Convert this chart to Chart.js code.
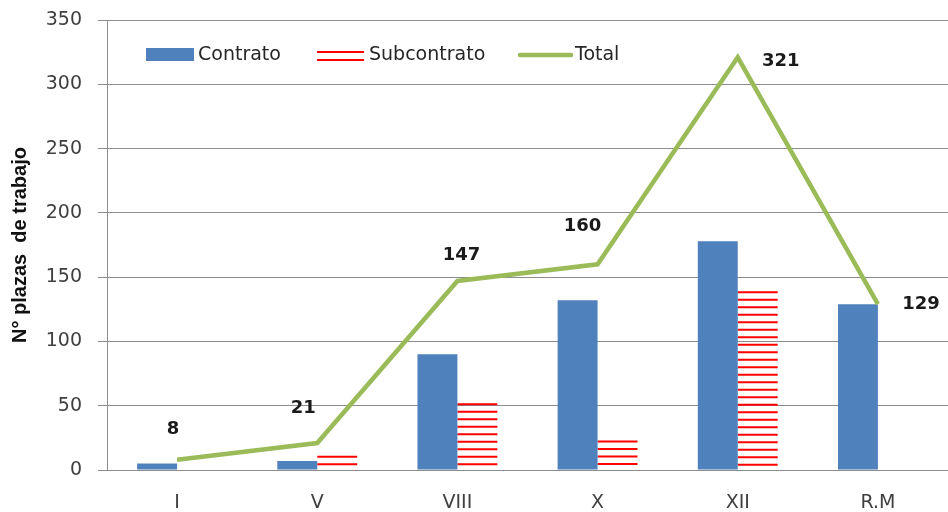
<!DOCTYPE html>
<html>
<head>
<meta charset="utf-8">
<script src="https://cdn.jsdelivr.net/npm/chart.js@4.4.1/dist/chart.umd.min.js"></script>
<style>
html,body{margin:0;padding:0;background:#fff;}
#wrap{width:948px;height:512px;position:relative;}
</style>
</head>
<body>
<div id="wrap"><canvas id="c" width="948" height="512"></canvas></div>
<script>
const categories = ['I', 'V', 'VIII', 'X', 'XII', 'R.M'];
const contrato = [5, 7, 90, 132, 178, 129];
const subcontrato = [0, 11, 52, 23, 139, 0];
const total = [8, 21, 147, 160, 321, 129];
const yTicks = [0, 50, 100, 150, 200, 250, 300, 350];

const BLUE = '#4F81BD', RED = '#FF0000', GREEN = '#9BBB59';
const GRID = '#8C8C8C';

// label offsets relative to the total-line point (style only)
const labelOffsets = [[-4,-30],[-14,-35],[4,-26],[-15,-38],[43,4],[43,0]];

const hatchPlugin = {
  id: 'hatch',
  afterDatasetDraw(chart, args) {
    if (args.index !== 1) return;
    const ctx = chart.ctx;
    ctx.save();
    ctx.strokeStyle = RED;
    ctx.lineWidth = 2;
    args.meta.data.forEach(bar => {
      const p = bar.getProps(['x','y','base','width'], true);
      if (p.base - p.y < 1) return;
      const l = p.x - p.width/2, r = p.x + p.width/2;
      for (let yy = p.y + 1; yy < p.base - 2; yy += 7.5) {
        ctx.beginPath();
        ctx.moveTo(l, yy);
        ctx.lineTo(r, yy);
        ctx.stroke();
      }
    });
    ctx.restore();
  }
};

const decorPlugin = {
  id: 'decor',
  afterDraw(chart) {
    const ctx = chart.ctx;
    const area = chart.chartArea;
    ctx.save();
    const meta = chart.getDatasetMeta(2);
    ctx.font = 'bold 18px "DejaVu Sans"';
    ctx.fillStyle = '#1a1a1a';
    ctx.textAlign = 'center';
    ctx.textBaseline = 'middle';
    meta.data.forEach((pt, i) => {
      const o = labelOffsets[i];
      ctx.fillText(String(total[i]), pt.x + o[0], pt.y + o[1]);
    });
    ctx.save();
    ctx.translate(20, (area.top + area.bottom) / 2);
    ctx.rotate(-Math.PI / 2);
    ctx.font = 'bold 20px "Liberation Sans"';
    ctx.fillStyle = '#111';
    ctx.fillText('N° plazas  de trabajo', 0, 0);
    ctx.restore();
    const ly = 55;
    ctx.font = '19px "DejaVu Sans"';
    ctx.textAlign = 'left';
    const ds = chart.data.datasets;
    ctx.fillStyle = BLUE;
    ctx.fillRect(146, 48, 48, 13);
    ctx.fillStyle = '#262626';
    ctx.fillText(ds[0].label, 198, ly);
    ctx.strokeStyle = RED;
    ctx.lineWidth = 2;
    [52, 60].forEach(yy => {
      ctx.beginPath(); ctx.moveTo(317, yy); ctx.lineTo(364, yy); ctx.stroke();
    });
    ctx.fillText(ds[1].label, 369, ly);
    ctx.strokeStyle = GREEN;
    ctx.lineWidth = 4.5;
    ctx.lineCap = 'round';
    ctx.beginPath(); ctx.moveTo(520, 55); ctx.lineTo(571, 55); ctx.stroke();
    ctx.fillText(ds[2].label, 575, ly);
    ctx.restore();
  }
};

new Chart(document.getElementById('c'), {
  data: {
    labels: categories,
    datasets: [
      { type: 'bar', label: 'Contrato', data: contrato, backgroundColor: BLUE,
        categoryPercentage: 0.57, barPercentage: 1.0, order: 1 },
      { type: 'bar', label: 'Subcontrato', data: subcontrato, backgroundColor: 'rgba(255,255,255,0)',
        categoryPercentage: 0.57, barPercentage: 1.0, order: 2 },
      { type: 'line', label: 'Total', data: total, borderColor: GREEN, borderWidth: 4.5,
        pointRadius: 0, pointHoverRadius: 0, tension: 0, borderJoinStyle: 'miter', fill: false, order: 0 }
    ]
  },
  options: {
    responsive: false,
    animation: false,
    devicePixelRatio: 1,
    layout: { padding: { top: 20, right: 0, bottom: 0, left: 0 } },
    plugins: { legend: { display: false }, tooltip: { enabled: false }, title: { display: false } },
    scales: {
      x: {
        grid: { display: false },
        border: { display: true, color: GRID, width: 1 },
        ticks: { color: '#404040', font: { family: 'DejaVu Sans', size: 19 }, padding: 14 },
        afterFit(scale) { scale.height = 42; scale.paddingLeft = 0; scale.paddingRight = 0; }
      },
      y: {
        min: 0, max: 350,
        afterBuildTicks(scale) { scale.ticks = yTicks.map(v => ({ value: v })); },
        grid: { color: GRID, lineWidth: 1, drawTicks: true, tickLength: 9 },
        border: { display: true, color: GRID, width: 1 },
        ticks: { color: '#404040', font: { family: 'DejaVu Sans', size: 19 }, padding: 16 },
        afterFit(scale) { scale.width = 107; scale.paddingTop = 0; scale.paddingBottom = 0; }
      }
    }
  },
  plugins: [hatchPlugin, decorPlugin]
});
</script>
</body>
</html>
